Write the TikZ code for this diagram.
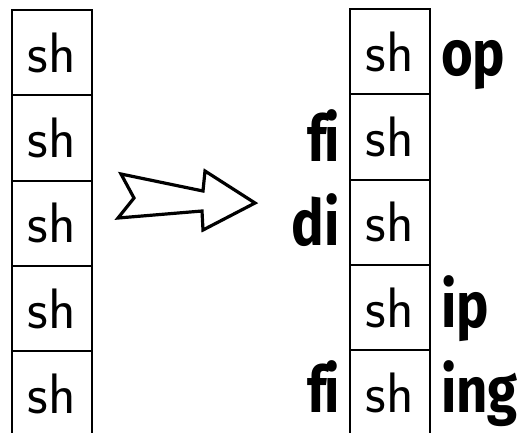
\documentclass[tikz,border=0pt]{standalone}
\usepackage{fontspec}
\newfontfamily\hand[FakeStretch=0.85,Ligatures={NoCommon}]{Fira Sans Bold}
\begin{document}
\begin{tikzpicture}[x=1pt,y=-1pt,
  cell/.style={draw,line width=2pt,minimum width=80pt,minimum height=85.3pt,inner sep=0pt,
    font=\sffamily\fontsize{57}{60}\selectfont},
  lbl/.style={inner sep=0pt,font=\hand\fontsize{64}{66}\selectfont}]
\useasboundingbox (0,0) rectangle (527,432);
\foreach \i in {0,...,4}{
  \node[cell] (L\i) at (52,{52.6+85.3*\i}) {sh};
  \node[cell] (R\i) at (390,{51.6+85.3*\i}) {sh};
}
\node[lbl,anchor=base west] (op) at (441,75) {op};
\node[lbl,anchor=base east] (fi1) at (340,161) {f\kern-2pt i};
\node[lbl,anchor=base east] (di) at (340,245) {di};
\node[lbl,anchor=base west] (ip) at (441,327) {ip};
\node[lbl,anchor=base east] (fi2) at (340,412) {f\kern-2pt i};
\node[lbl,anchor=base west] (ing) at (441,412) {ing};
\draw[line width=3.2pt,line join=miter] (121,174) -- (134,198) -- (118,218) -- (202,211) -- (203,230)
  -- (255,203) -- (205,171) -- (203,191) -- cycle;
\end{tikzpicture}
\end{document}
